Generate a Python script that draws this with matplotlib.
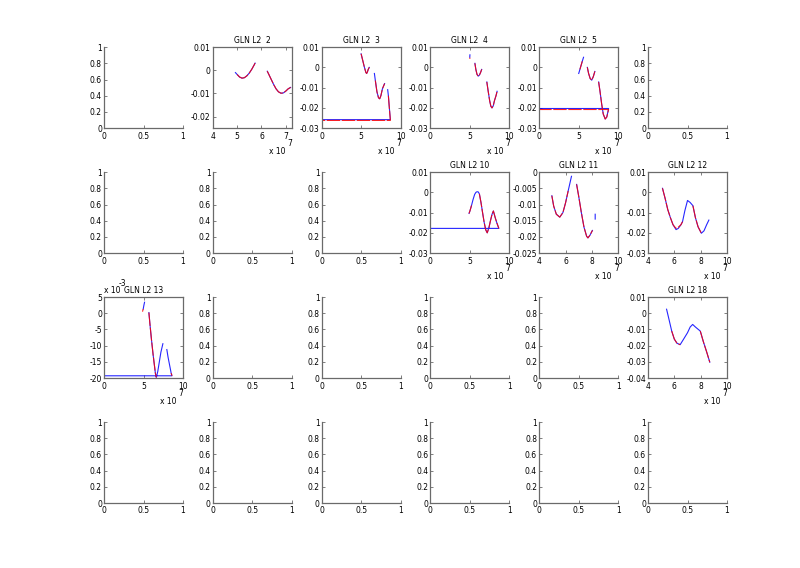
import numpy as np
import matplotlib
matplotlib.use('Agg')
import matplotlib.pyplot as plt
from matplotlib.ticker import FormatStrFormatter

nan = np.nan

# GLN L2 2
x2 = [4.93, 5.0, 5.1, 5.2, 5.3, 5.4, 5.5, 5.6, 5.7, 5.74, nan,
      6.24, 6.3, 6.4, 6.5, 6.6, 6.7, 6.8, 6.9, 7.0, 7.1, 7.2]
b2 = [-0.001, -0.0018, -0.0029, -0.0034, -0.0032, -0.0024, -0.0012, 0.0004, 0.0023, 0.0031, nan,
      -0.0004, -0.0017, -0.0039, -0.0061, -0.0080, -0.0093, -0.0099, -0.0098, -0.0090, -0.0080, -0.0074]
r2 = [nan, -0.0018, -0.0029, -0.0034, -0.0032, -0.0024, -0.0012, 0.0004, 0.0023, 0.0031, nan,
      -0.0004, -0.0017, -0.0039, -0.0061, -0.0080, -0.0093, -0.0099, -0.0098, -0.0090, -0.0080, -0.0074]

# GLN L2 3
x3 = [5.0, 5.2, 5.4, 5.6, 5.7, 5.8, 5.9, 6.03, nan,
      6.68, 6.8, 7.0, 7.2, 7.35, 7.5, 7.7, 7.97, nan,
      8.36, 8.45, 8.55, 8.7, 0.0]
b3 = [0.0067, 0.0035, 0.0003, -0.0025, -0.003, -0.0022, -0.001, 0.0, nan,
      -0.003, -0.0065, -0.012, -0.015, -0.0155, -0.014, -0.0105, -0.008, nan,
      -0.011, -0.014, -0.019, -0.0258, -0.0258]
r3 = [0.0067, 0.0035, 0.0003, -0.0025, -0.003, -0.0022, -0.001, 0.0, nan,
      nan, -0.0065, -0.012, -0.015, -0.0155, -0.014, -0.0105, -0.008, nan,
      nan, -0.014, -0.019, -0.0262, -0.0262]

# GLN L2 4
x4 = [4.98, 5.0, nan,
      5.63, 5.75, 5.9, 6.06, 6.2, 6.35, 6.49, nan,
      7.14, 7.3, 7.5, 7.65, 7.79, 7.95, 8.1, 8.3, 8.44]
b4 = [0.005, 0.0062, nan,
      0.002, -0.001, -0.0035, -0.0043, -0.0038, -0.0025, -0.001, nan,
      -0.0072, -0.0115, -0.0165, -0.0192, -0.020, -0.019, -0.0165, -0.014, -0.0118]
r4 = [0.0042, 0.0048, nan,
      0.002, -0.001, -0.0035, -0.0043, -0.0038, -0.0025, -0.001, nan,
      -0.0072, -0.0115, -0.0165, -0.0192, -0.020, -0.019, -0.0165, -0.014, -0.0118]

# GLN L2 5
x5 = [5.0, 5.15, 5.3, 5.45, 5.61, nan,
      6.09, 6.25, 6.45, 6.65, 6.85, 7.04, nan,
      7.52, 7.7, 7.9, 8.1, 8.35, 8.55, 8.78, 0.0]
b5 = [-0.003, -0.001, 0.001, 0.003, 0.005, nan,
      0.0, -0.003, -0.0055, -0.0063, -0.0045, -0.002, nan,
      -0.0072, -0.012, -0.018, -0.023, -0.0255, -0.0245, -0.0203, -0.0203]
r5 = [nan, -0.001, 0.001, 0.003, nan, nan,
      0.0, -0.003, -0.0055, -0.0063, -0.0045, -0.002, nan,
      -0.0072, -0.012, -0.018, -0.023, -0.0255, -0.0245, -0.0208, -0.0208]

# GLN L2 10
x10 = [4.89, 5.0, 5.2, 5.4, 5.6, 5.76, 5.9, 6.06, 6.2, 6.4, 6.6, 6.8, 7.0, 7.19,
       7.4, 7.6, 7.8, 7.97, 8.2, 8.4, 8.66, 0.0]
b10 = [-0.0104, -0.0092, -0.0065, -0.0035, -0.001, 0.0, 0.0003, 0.0002, -0.0008, -0.005,
       -0.01, -0.0148, -0.0185, -0.02, -0.0175, -0.014, -0.0108, -0.0092, -0.0125, -0.015,
       -0.0178, -0.0178]
r10 = [-0.0104, -0.0092, -0.0065, nan, nan, nan, nan, nan, -0.0008, -0.005,
       -0.01, -0.0148, -0.0185, -0.02, -0.0175, -0.014, -0.0108, -0.0092, -0.0125, -0.015,
       -0.0178, nan]

# GLN L2 11
x11 = [4.96, 5.1, 5.3, 5.56, 5.8, 6.0, 6.2, 6.45, nan,
       6.84, 7.0, 7.2, 7.4, 7.6, 7.7, 7.85, 8.04, nan,
       8.25, 8.25]
b11 = [-0.0073, -0.0105, -0.013, -0.0139, -0.0125, -0.0095, -0.0058, -0.0013, nan,
       -0.0038, -0.0075, -0.0125, -0.017, -0.0198, -0.0203, -0.0195, -0.018, nan,
       -0.013, -0.0145]
r11 = [-0.0073, -0.0105, -0.013, -0.0139, -0.0125, -0.0095, -0.0058, nan, nan,
       -0.0038, -0.0075, -0.0125, -0.017, -0.0198, -0.0203, -0.0195, -0.018, nan,
       nan, nan]

# GLN L2 12
x12 = [5.1, 5.3, 5.5, 5.7, 5.9, 6.13, 6.3, 6.5, 6.62, 6.8, 7.0, 7.2, 7.41,
       7.6, 7.8, 8.05, 8.25, 8.45, 8.62]
b12 = [0.002, -0.003, -0.0085, -0.0125, -0.016, -0.0184, -0.0178, -0.016, -0.0145, -0.009,
       -0.004, -0.005, -0.0066, -0.0125, -0.017, -0.0202, -0.019, -0.016, -0.0137]
r12 = [0.002, -0.003, -0.0085, -0.0125, -0.016, -0.0178, -0.0172, -0.016, -0.0145, nan,
       nan, nan, -0.0066, -0.0125, -0.017, -0.0202, nan, nan, nan]

# GLN L2 13 (y in units of 1e-3)
x13 = [4.87, 4.96, 5.05, 5.13, nan,
       5.68, 5.8, 6.0, 6.2, 6.35, 6.5, 6.62, 6.8, 7.0, 7.2, 7.45, nan,
       7.95, 8.1, 8.3, 8.5, 8.6, 0.0]
b13 = [nan, 1.3, 2.5, 3.4, nan,
       0.2, -3, -8, -12.5, -15.5, -18.5, -19.8, -18, -15, -12, -9.4, nan,
       -11.2, -13.5, -16, -18.5, -19.3, -19.3]
r13 = [0.5, 1.3, nan, nan, nan,
       0.2, -3, -8, -12.5, -15.5, -18.5, -19.8, nan, nan, nan, nan, nan,
       nan, nan, nan, -18.5, -19.3, nan]

# GLN L2 18
x18 = [5.41, 5.6, 5.8, 6.0, 6.2, 6.44, 6.7, 7.0, 7.2, 7.39, 7.6, 7.97, 8.2, 8.45, 8.69]
b18 = [0.0025, -0.004, -0.011, -0.016, -0.0185, -0.0194, -0.016, -0.012, -0.0085, -0.0069,
       -0.0085, -0.011, -0.0175, -0.0238, -0.0302]
r18 = [nan, nan, -0.011, -0.016, -0.0185, -0.0194, nan, nan, nan, nan,
       nan, -0.011, -0.0175, -0.0238, -0.0302]

ticks_0_10 = [0, 5, 10]
ticks_4_10 = [4, 6, 8, 10]
yt_01 = [-0.03, -0.02, -0.01, 0, 0.01]

# num -> (x, blue, red, xlim, ylim, xticks, yticks)
panels = {
    2: (x2, b2, r2, (4, 7.25), (-0.025, 0.01), [4, 5, 6, 7], [-0.02, -0.01, 0, 0.01]),
    3: (x3, b3, r3, (0, 10), (-0.03, 0.01), ticks_0_10, yt_01),
    4: (x4, b4, r4, (0, 10), (-0.03, 0.01), ticks_0_10, yt_01),
    5: (x5, b5, r5, (0, 10), (-0.03, 0.01), ticks_0_10, yt_01),
    10: (x10, b10, r10, (0, 10), (-0.03, 0.01), ticks_0_10, yt_01),
    11: (x11, b11, r11, (4, 10), (-0.025, 0), ticks_4_10,
         [-0.025, -0.02, -0.015, -0.01, -0.005, 0]),
    12: (x12, b12, r12, (4, 10), (-0.03, 0.01), ticks_4_10, yt_01),
    13: (x13, b13, r13, (0, 10), (-20, 5), ticks_0_10, [-20, -15, -10, -5, 0, 5]),
    18: (x18, b18, r18, (4, 10), (-0.04, 0.01), ticks_4_10,
         [-0.04, -0.03, -0.02, -0.01, 0, 0.01]),
}

plt.rcParams['axes.unicode_minus'] = False
plt.rcParams['font.family'] = 'DejaVu Sans'
plt.rcParams['font.size'] = 5.5

axcol = '#6a6a6a'
fig = plt.figure(figsize=(8, 5.68), dpi=100)

for row in range(4):
    for col in range(6):
        num = row * 6 + col + 1
        ax = fig.add_axes([0.13 + col * 0.136, 0.1144 + (3 - row) * 0.22, 0.0988, 0.1426])
        for s in ax.spines.values():
            s.set_color(axcol)
            s.set_linewidth(0.9)
        ax.tick_params(direction='in', length=2, width=0.6, colors=axcol,
                       labelcolor='black', labelsize=5.5)
        ax.tick_params(axis='x', pad=2.5)
        ax.tick_params(axis='y', pad=1.5)
        ax.xaxis.set_major_formatter(FormatStrFormatter('%g'))
        ax.yaxis.set_major_formatter(FormatStrFormatter('%g'))
        if num in panels:
            x, b, r, xl, yl, xt, yt = panels[num]
            ax.plot(x, b, color='b', lw=0.8, alpha=0.85)
            ax.plot(x, r, color='r', lw=0.8, alpha=0.85, dashes=(12, 1.5))
            ax.set_xlim(xl)
            ax.set_ylim(yl)
            ax.set_xticks(xt)
            ax.set_yticks(yt)
            ax.tick_params(top=True, right=True)
            ax.set_title('GLN L2 %2d' % num, fontsize=5.5, pad=3)
            ax.text(0.92, -0.286, 'x 10', transform=ax.transAxes, ha='right', va='center')
            ax.text(0.946, -0.195, '7', transform=ax.transAxes, ha='left', va='center')
            if num == 13:
                ax.text(0.0, 1.083, 'x 10', transform=ax.transAxes, ha='left', va='center')
                ax.text(0.19, 1.163, '-3', transform=ax.transAxes, ha='left', va='center')
        else:
            ax.set_xlim(0, 1)
            ax.set_ylim(0, 1)
            ax.set_xticks([0, 0.5, 1])
            ax.set_yticks([0, 0.2, 0.4, 0.6, 0.8, 1])
            ax.spines['top'].set_visible(False)
            ax.spines['right'].set_visible(False)

fig.savefig('out.png', dpi=100)
